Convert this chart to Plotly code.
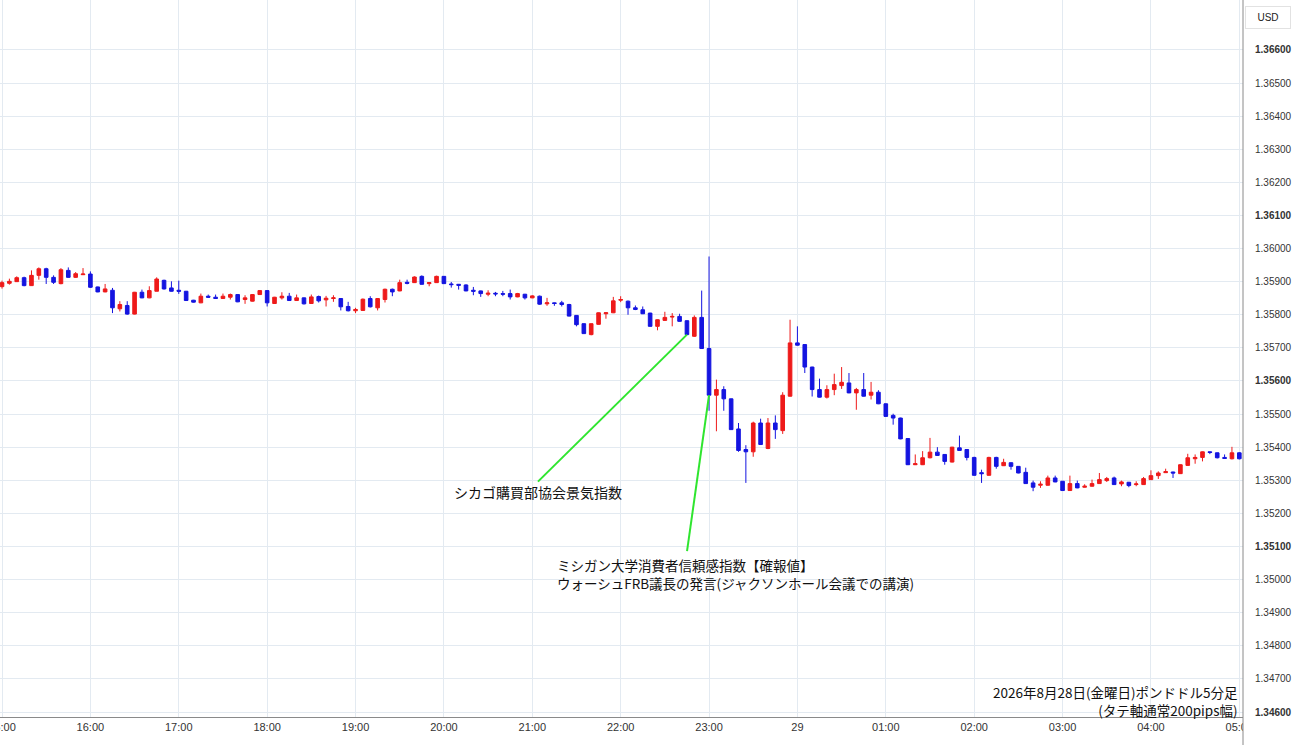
import pandas as pd
import plotly.graph_objects as go

# ---- data (GBP/USD 5-minute candles, 2026-08-28 15:00 -> 2026-08-29 05:00) ----
start_time = "2026-08-28 15:00"
n_candles = 169

open_ = [
 1.35885,1.35895,1.35900,1.35912,1.35888,1.35919,1.35939,1.35913,1.35894,1.35934,
 1.35913,1.35921,1.35923,1.35884,1.35869,1.35874,1.35818,1.35828,1.35802,1.35868,
 1.35851,1.35871,1.35904,1.35881,1.35874,1.35871,1.35844,1.35836,1.35856,1.35853,
 1.35849,1.35853,1.35861,1.35846,1.35841,1.35861,1.35873,1.35834,1.35851,1.35856,
 1.35843,1.35851,1.35834,1.35855,1.35845,1.35849,1.35849,1.35825,1.35812,1.35813,
 1.35849,1.35821,1.35846,1.35877,1.35872,1.35898,1.35897,1.35916,1.35894,1.35897,
 1.35916,1.35893,1.35892,1.35890,1.35874,1.35872,1.35862,1.35865,1.35864,1.35864,
 1.35854,1.35862,1.35851,1.35856,1.35833,1.35836,1.35836,1.35831,1.35798,1.35773,
 1.35740,1.35771,1.35803,1.35806,1.35844,1.35841,1.35821,1.35815,1.35805,1.35765,
 1.35783,1.35793,1.35795,1.35782,1.35735,1.35792,1.35698,1.35557,1.35574,1.35546,
 1.35455,1.35393,1.35386,1.35473,1.35396,1.35473,1.35450,1.35554,1.35715,1.35710,
 1.35642,1.35574,1.35551,1.35574,1.35586,1.35594,1.35564,1.35574,1.35557,1.35566,
 1.35531,1.35496,1.35488,1.35426,1.35347,1.35347,1.35368,1.35385,1.35378,1.35355,
 1.35398,1.35393,1.35369,1.35323,1.35315,1.35369,1.35344,1.35353,1.35342,1.35324,
 1.35292,1.35285,1.35285,1.35307,1.35297,1.35269,1.35290,1.35279,1.35282,1.35290,
 1.35299,1.35307,1.35289,1.35294,1.35287,1.35287,1.35302,1.35314,1.35323,1.35325,
 1.35320,1.35345,1.35365,1.35369,1.35386,1.35383,1.35369,1.35365,1.35383]
high = [
 1.35903,1.35909,1.35916,1.35915,1.35934,1.35943,1.35942,1.35919,1.35941,1.35943,
 1.35929,1.35941,1.35931,1.35885,1.35893,1.35881,1.35841,1.35841,1.35869,1.35876,
 1.35886,1.35913,1.35906,1.35901,1.35903,1.35872,1.35845,1.35864,1.35861,1.35861,
 1.35864,1.35864,1.35862,1.35859,1.35862,1.35874,1.35874,1.35854,1.35868,1.35866,
 1.35861,1.35852,1.35861,1.35858,1.35857,1.35859,1.35850,1.35839,1.35821,1.35849,
 1.35856,1.35850,1.35879,1.35879,1.35906,1.35906,1.35916,1.35919,1.35898,1.35918,
 1.35917,1.35899,1.35893,1.35892,1.35884,1.35873,1.35874,1.35869,1.35872,1.35876,
 1.35866,1.35863,1.35859,1.35858,1.35851,1.35837,1.35842,1.35833,1.35799,1.35774,
 1.35774,1.35807,1.35807,1.35854,1.35856,1.35843,1.35828,1.35825,1.35806,1.35786,
 1.35809,1.35805,1.35803,1.35783,1.35798,1.35873,1.35976,1.35604,1.35584,1.35547,
 1.35473,1.35406,1.35477,1.35486,1.35488,1.35496,1.35566,1.35785,1.35765,1.35711,
 1.35643,1.35607,1.35587,1.35622,1.35642,1.35624,1.35579,1.35624,1.35597,1.35572,
 1.35532,1.35501,1.35489,1.35427,1.35378,1.35388,1.35428,1.35400,1.35379,1.35401,
 1.35435,1.35394,1.35371,1.35332,1.35371,1.35371,1.35365,1.35354,1.35343,1.35338,
 1.35299,1.35297,1.35314,1.35314,1.35298,1.35314,1.35299,1.35288,1.35302,1.35322,
 1.35310,1.35311,1.35299,1.35295,1.35297,1.35310,1.35330,1.35327,1.35335,1.35326,
 1.35348,1.35380,1.35378,1.35387,1.35387,1.35384,1.35378,1.35401,1.35385]
low = [
 1.35879,1.35891,1.35899,1.35886,1.35887,1.35906,1.35893,1.35893,1.35892,1.35912,
 1.35911,1.35920,1.35881,1.35868,1.35868,1.35805,1.35810,1.35800,1.35801,1.35850,
 1.35850,1.35871,1.35876,1.35870,1.35863,1.35842,1.35837,1.35835,1.35851,1.35848,
 1.35848,1.35846,1.35838,1.35833,1.35840,1.35860,1.35825,1.35833,1.35846,1.35842,
 1.35842,1.35831,1.35833,1.35837,1.35825,1.35839,1.35813,1.35810,1.35805,1.35812,
 1.35822,1.35813,1.35837,1.35856,1.35871,1.35892,1.35896,1.35891,1.35886,1.35896,
 1.35893,1.35882,1.35876,1.35871,1.35859,1.35854,1.35856,1.35856,1.35856,1.35846,
 1.35853,1.35846,1.35850,1.35830,1.35827,1.35827,1.35825,1.35795,1.35765,1.35742,
 1.35738,1.35770,1.35788,1.35805,1.35838,1.35800,1.35814,1.35802,1.35764,1.35753,
 1.35782,1.35765,1.35779,1.35739,1.35733,1.35697,1.35510,1.35448,1.35510,1.35452,
 1.35386,1.35292,1.35371,1.35407,1.35394,1.35425,1.35440,1.35553,1.35707,1.35624,
 1.35553,1.35550,1.35547,1.35557,1.35576,1.35563,1.35513,1.35553,1.35544,1.35530,
 1.35492,1.35468,1.35424,1.35346,1.35346,1.35346,1.35366,1.35374,1.35347,1.35354,
 1.35389,1.35360,1.35314,1.35292,1.35314,1.35335,1.35343,1.35332,1.35321,1.35289,
 1.35267,1.35277,1.35284,1.35294,1.35268,1.35268,1.35276,1.35278,1.35281,1.35289,
 1.35295,1.35286,1.35282,1.35279,1.35282,1.35286,1.35301,1.35304,1.35322,1.35307,
 1.35319,1.35344,1.35350,1.35357,1.35379,1.35366,1.35365,1.35363,1.35363]
close = [
 1.35897,1.35901,1.35912,1.35888,1.35919,1.35939,1.35913,1.35898,1.35936,1.35913,
 1.35924,1.35923,1.35883,1.35869,1.35878,1.35821,1.35831,1.35802,1.35868,1.35851,
 1.35873,1.35908,1.35878,1.35871,1.35871,1.35843,1.35838,1.35856,1.35853,1.35849,
 1.35856,1.35861,1.35839,1.35851,1.35861,1.35873,1.35836,1.35853,1.35856,1.35843,
 1.35851,1.35833,1.35854,1.35842,1.35850,1.35851,1.35824,1.35812,1.35816,1.35847,
 1.35824,1.35849,1.35877,1.35869,1.35897,1.35895,1.35914,1.35892,1.35897,1.35916,
 1.35894,1.35891,1.35889,1.35872,1.35871,1.35864,1.35865,1.35863,1.35862,1.35854,
 1.35864,1.35851,1.35857,1.35832,1.35836,1.35834,1.35831,1.35796,1.35770,1.35743,
 1.35773,1.35806,1.35806,1.35842,1.35846,1.35821,1.35816,1.35803,1.35765,1.35785,
 1.35792,1.35795,1.35780,1.35740,1.35792,1.35698,1.35557,1.35574,1.35546,1.35453,
 1.35390,1.35386,1.35473,1.35408,1.35473,1.35453,1.35557,1.35715,1.35708,1.35642,
 1.35574,1.35551,1.35574,1.35589,1.35596,1.35564,1.35574,1.35554,1.35566,1.35531,
 1.35493,1.35488,1.35425,1.35347,1.35350,1.35368,1.35385,1.35375,1.35357,1.35400,
 1.35390,1.35369,1.35315,1.35320,1.35369,1.35342,1.35354,1.35342,1.35322,1.35290,
 1.35279,1.35288,1.35307,1.35295,1.35269,1.35290,1.35277,1.35282,1.35290,1.35302,
 1.35305,1.35287,1.35295,1.35284,1.35289,1.35305,1.35314,1.35322,1.35326,1.35322,
 1.35347,1.35368,1.35369,1.35386,1.35384,1.35368,1.35366,1.35383,1.35365]

hour_ticks = ["2026-08-28 15:00", "2026-08-28 16:00", "2026-08-28 17:00", "2026-08-28 18:00",
              "2026-08-28 19:00", "2026-08-28 20:00", "2026-08-28 21:00", "2026-08-28 22:00",
              "2026-08-28 23:00", "2026-08-29 00:00", "2026-08-29 01:00", "2026-08-29 02:00",
              "2026-08-29 03:00", "2026-08-29 04:00", "2026-08-29 05:00"]
hour_labels = ["15:00", "16:00", "17:00", "18:00", "19:00", "20:00", "21:00", "22:00",
               "23:00", "29", "01:00", "02:00", "03:00", "04:00", "05:00"]
price_ticks = [1.346 + 0.001 * k for k in range(21)]
price_labels = [("<b>%.5f</b>" if k % 5 == 0 else "%.5f") % (1.346 + 0.001 * k) for k in range(21)]

event_chicago = "2026-08-28 22:45"
event_michigan = "2026-08-28 23:00"
text_chicago = "シカゴ購買部協会景気指数"
text_michigan = "ミシガン大学消費者信頼感指数【確報値】<br>ウォーシュFRB議長の発言(ジャクソンホール会議での講演)"
text_title = "2026年8月28日(金曜日)ポンドドル5分足<br>(タテ軸通常200pips幅)"

times = pd.date_range(start_time, periods=n_candles, freq="5min")

RED = "#ee1a1a"
BLUE = "#1414e0"
GREEN = "#2fe52f"
GRID = "#e3eaf1"
JP = "Noto Sans CJK JP"

fig = go.Figure(go.Candlestick(
    x=times, open=open_, high=high, low=low, close=close,
    increasing=dict(line=dict(color=RED, width=1), fillcolor=RED),
    decreasing=dict(line=dict(color=BLUE, width=1), fillcolor=BLUE),
    whiskerwidth=0, showlegend=False, hoverinfo="skip",
))

ci = times.get_loc(pd.Timestamp(event_chicago))
mi = times.get_loc(pd.Timestamp(event_michigan))

fig.update_layout(
    width=1300, height=745,
    margin=dict(l=0, r=57, t=0, b=28, autoexpand=False),
    paper_bgcolor="white", plot_bgcolor="white",
    font=dict(family="Liberation Sans, Arial, sans-serif", color="#333333", size=11),
    xaxis=dict(
        type="date", automargin=False,
        range=["2026-08-28 14:58:38", "2026-08-29 05:02:30"],
        tickmode="array", tickvals=hour_ticks, ticktext=hour_labels,
        showgrid=True, gridcolor=GRID, gridwidth=1,
        rangeslider=dict(visible=False),
        showline=True, linecolor="#8a8a8a", linewidth=1,
        ticks="", tickfont=dict(size=11, color="#333333"),
        ticklabeloverflow="allow",
        zeroline=False,
    ),
    yaxis=dict(
        side="right", automargin=False,
        range=[1.345849, 1.367508],
        tickmode="array", tickvals=price_ticks, ticktext=price_labels,
        showgrid=True, gridcolor=GRID, gridwidth=1,
        showline=False, ticks="", ticklabelstandoff=11,
        tickfont=dict(size=10, color="#333333"),
        zeroline=False,
    ),
    shapes=[
        dict(type="rect", xref="paper", yref="paper", x0=1.0, x1=1.05, y0=-0.045, y1=-0.0005,
             fillcolor="white", line=dict(width=0), layer="above"),
        dict(type="line", xref="paper", yref="paper", x0=1.0, x1=1.0, y0=-0.045, y1=1.0,
             line=dict(color="#8a8a8a", width=1), layer="above"),
        dict(type="line", xref="x", yref="y", xsizemode="pixel", ysizemode="pixel",
             xanchor=times[ci], yanchor=close[ci], x0=0, y0=0, x1=-149, y1=-147,
             line=dict(color=GREEN, width=2), layer="above"),
        dict(type="line", xref="x", yref="y", xsizemode="pixel", ysizemode="pixel",
             xanchor=times[mi], yanchor=close[mi], x0=0, y0=0, x1=-22, y1=-156,
             line=dict(color=GREEN, width=2), layer="above"),
    ],
    annotations=[
        dict(text=text_chicago, xref="paper", yref="paper", x=452 / 1243, y=1 - 492 / 717,
             xanchor="left", yanchor="middle", showarrow=False,
             font=dict(family=JP, size=14, color="#111111")),
        dict(text=text_michigan, xref="paper", yref="paper", x=555 / 1243, y=1 - 553 / 717,
             xanchor="left", yanchor="top", align="left", showarrow=False,
             font=dict(family=JP, size=13.5, color="#111111")),
        dict(text=text_title, xref="paper", yref="paper", x=1240 / 1243, y=1 - 722 / 717,
             xanchor="right", yanchor="bottom", align="right", showarrow=False,
             font=dict(family=JP, size=13.5, color="#111111")),
        dict(text="USD", xref="paper", yref="paper", x=1268 / 1243, y=1 - 17 / 717,
             xanchor="center", yanchor="middle", showarrow=False,
             bgcolor="white", bordercolor="#e2e2e2", borderwidth=1, borderpad=5, width=34,
             font=dict(size=10, color="#222222")),
    ],
)

fig.write_html("out.html", config={"displayModeBar": False},
               post_script="document.body.style.margin='0';")
